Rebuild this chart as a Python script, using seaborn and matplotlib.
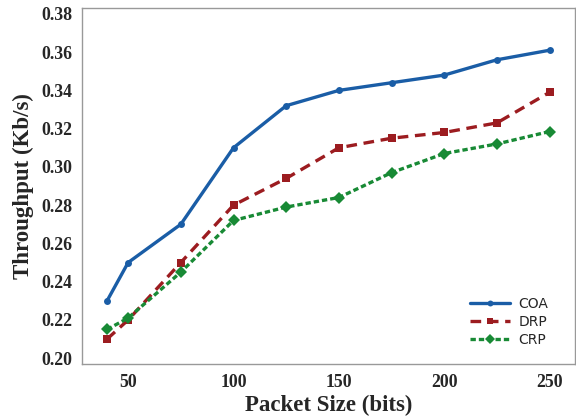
import matplotlib
matplotlib.use("Agg")
import matplotlib.pyplot as plt
import seaborn as sns

packet_size = [40, 50, 75, 100, 125, 150, 175, 200, 225, 250]
coa = [0.230, 0.250, 0.270, 0.310, 0.332, 0.340, 0.344, 0.348, 0.356, 0.361]
drp = [0.210, 0.220, 0.250, 0.280, 0.294, 0.310, 0.315, 0.318, 0.323, 0.339]
crp = [0.215, 0.221, 0.245, 0.272, 0.279, 0.284, 0.297, 0.307, 0.312, 0.3185]

series_names = ["COA", "DRP", "CRP"]
y_ticks = [0.20, 0.22, 0.24, 0.26, 0.28, 0.30, 0.32, 0.34, 0.36, 0.38]
x_ticks = [50, 100, 150, 200, 250]

sns.set_theme(style="white")
plt.rcParams["font.family"] = ["Liberation Serif", "DejaVu Serif"]

fig = plt.figure(figsize=(5.76, 4.19), dpi=100)
ax = fig.add_axes([0.142, 0.131, 0.856, 0.850])

styles = [
    dict(color="#1a5da6", marker="o", markersize=5, linestyle="-"),
    dict(color="#9c1c20", marker="s", markersize=5.5, linestyle=(0, (3.2, 2))),
    dict(color="#188a35", marker="D", markersize=6.5, linestyle=(0, (1.6, 0.9))),
]
for name, vals, st in zip(series_names, [coa, drp, crp], styles):
    sns.lineplot(x=packet_size, y=vals, ax=ax, label=name, linewidth=2.4,
                 markeredgewidth=0, **st)

ax.set_xlim(28, 262)
ax.set_ylim(0.1969, 0.3831)
ax.set_xticks(x_ticks)
ax.set_yticks(y_ticks)
ax.set_xticklabels([str(v) for v in x_ticks])
ax.set_yticklabels([f"{v:.2f}" for v in y_ticks])
ax.tick_params(axis="both", direction="out", length=4, width=1, color="#999999",
               labelsize=12.8, pad=3)
for lab in ax.get_xticklabels() + ax.get_yticklabels():
    lab.set_fontweight("bold")
for sp in ax.spines.values():
    sp.set_color("#999999")
    sp.set_linewidth(1)

ax.set_xlabel("Packet Size (bits)", fontsize=16.5, fontweight="bold", labelpad=3)
ax.set_ylabel("Throughput (Kb/s)", fontsize=16.5, fontweight="bold", labelpad=5)

leg = ax.legend(loc="lower right", bbox_to_anchor=(0.972, 0.012), frameon=False,
                prop={"family": "DejaVu Sans", "size": 10}, handlelength=2.9,
                labelspacing=0.3, handletextpad=0.6, markerscale=0.85)

fig.savefig("out.png", dpi=100)
